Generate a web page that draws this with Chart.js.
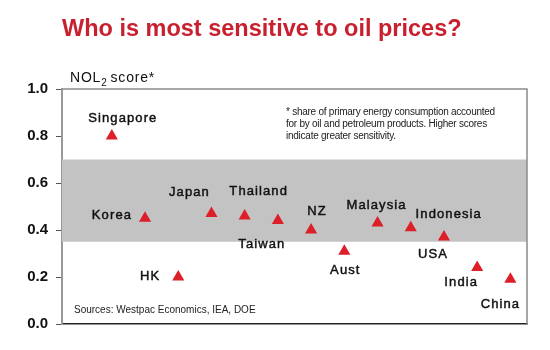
<!DOCTYPE html>
<html>
<head>
<meta charset="utf-8">
<script src="https://cdn.jsdelivr.net/npm/chart.js@4"></script>
<style>
  html, body { margin: 0; padding: 0; background: #fff; }
  #wrap { width: 550px; height: 350px; }
</style>
</head>
<body>
<div id="wrap"><canvas id="chart"></canvas></div>
<script>
// Données
const countries = ['Singapore', 'Korea', 'HK', 'Japan', 'Thailand', 'Taiwan', 'NZ',
                   'Aust', 'Malaysia', 'Indonesia', 'USA', 'India', 'China'];
const nolScore  = [0.80, 0.45, 0.20, 0.47, 0.46, 0.44, 0.40,
                   0.31, 0.43, 0.41, 0.37, 0.24, 0.19];
const band      = [0.35, 0.70];
const yTicks    = [0.0, 0.2, 0.4, 0.6, 0.8, 1.0];

const RED  = '#dc1f28';
const TEXT = '#111';
const FONT = '"Liberation Sans", Arial, sans-serif';

// Posição dos rótulos relativa ao ponto: [dx, dy, align]
const labelAt = {
    Singapore: [11, -18, 'center'], Korea: [-13, -3, 'right'], HK: [-18, -1, 'right'],
    Japan: [-22, -21, 'center'], Thailand: [14, -24, 'center'], Taiwan: [-16, 24, 'center'],
    NZ: [6, -19, 'center'], Aust: [1, 19, 'center'], Malaysia: [-1, -18, 'center'],
    Indonesia: [38, -13, 'center'], USA: [-11, 17, 'center'], India: [-16, 15, 'center'],
    China: [-10, 25, 'center'],
};

const decor = {
    id: 'decor',
    beforeDatasetsDraw(chart) {
        const { ctx, chartArea: a, scales: { y } } = chart;
        ctx.save();
        ctx.fillStyle = '#c3c3c3';
        const t = y.getPixelForValue(band[1]), b = y.getPixelForValue(band[0]);
        ctx.fillRect(a.left, t, a.right - a.left, b - t);
        // borda superior e direita
        ctx.strokeStyle = '#8a8a8a';
        ctx.lineWidth = 1.5;
        ctx.beginPath();
        ctx.moveTo(a.left, a.top);
        ctx.lineTo(a.right, a.top);
        ctx.lineTo(a.right, a.bottom);
        ctx.stroke();
        ctx.restore();
    },
    afterDraw(chart) {
        const { ctx } = chart;
        const meta = chart.getDatasetMeta(0);
        ctx.save();
        // título
        ctx.fillStyle = '#c8202e';
        ctx.font = `bold 23.5px ${FONT}`;
        ctx.textBaseline = 'alphabetic';
        ctx.textAlign = 'left';
        ctx.fillText('Who is most sensitive to oil prices?', 62, 36);

        // título do eixo y
        ctx.fillStyle = TEXT;
        ctx.letterSpacing = '0.8px';
        ctx.font = `14px ${FONT}`;
        ctx.fillText('NOL', 70, 82);
        let w = ctx.measureText('NOL').width;
        ctx.font = `10px ${FONT}`;
        ctx.fillText('2', 70 + w, 86);
        w += ctx.measureText('2').width + 3;
        ctx.font = `14px ${FONT}`;
        ctx.fillText('score*', 70 + w, 82);

        // nota
        ctx.fillStyle = '#222';
        ctx.font = `10px ${FONT}`;
        ctx.letterSpacing = '-0.25px';
        ['* share of primary energy consumption accounted',
         'for by oil and petroleum products. Higher scores',
         'indicate greater sensitivity.'].forEach((s, i) => ctx.fillText(s, 286, 115 + i * 12));
        ctx.letterSpacing = '0px';
        ctx.fillText('Sources: Westpac Economics, IEA, DOE', 74, 313);

        // rótulos dos países
        ctx.fillStyle = TEXT;
        ctx.strokeStyle = TEXT;
        ctx.lineWidth = 0.45;
        ctx.font = `13px ${FONT}`;
        ctx.letterSpacing = '1.1px';
        ctx.textBaseline = 'middle';
        meta.data.forEach((pt, i) => {
            const [dx, dy, align] = labelAt[countries[i]];
            ctx.textAlign = align;
            ctx.fillText(countries[i], pt.x + dx, pt.y + dy);
            ctx.strokeText(countries[i], pt.x + dx, pt.y + dy);
        });
        ctx.restore();
    },
};

new Chart(document.getElementById('chart'), {
    type: 'scatter',
    data: {
        datasets: [{
            data: nolScore.map((v, i) => ({ x: i, y: v })),
            pointStyle: 'triangle',
            pointRadius: 7,
            pointHoverRadius: 7,
            backgroundColor: RED,
            borderColor: RED,
            borderWidth: 0,
        }],
    },
    options: {
        responsive: true,
        maintainAspectRatio: false,
        animation: false,
        events: [],
        layout: { padding: { top: 89, right: 23, left: 0, bottom: 0 } },
        plugins: { legend: { display: false }, tooltip: { enabled: false } },
        scales: {
            x: {
                type: 'linear',
                min: -1.5,
                max: countries.length - 0.5,
                ticks: { display: false },
                grid: { display: false },
                border: { display: true, color: '#222', width: 1.5 },
                afterFit: s => { s.height = 26; },
            },
            y: {
                min: 0,
                max: 1,
                afterBuildTicks: s => { s.ticks = yTicks.map(v => ({ value: v })); },
                ticks: {
                    padding: 8,
                    color: TEXT,
                    font: { family: FONT, size: 15, weight: 'bold' },
                    callback: v => v.toFixed(1),
                },
                grid: { drawOnChartArea: false, drawTicks: true, tickLength: 6, color: '#555', lineWidth: 1 },
                border: { display: true, color: '#999', width: 2 },
                afterFit: s => { s.width = 62; },
            },
        },
    },
    plugins: [decor],
});
</script>
</body>
</html>
